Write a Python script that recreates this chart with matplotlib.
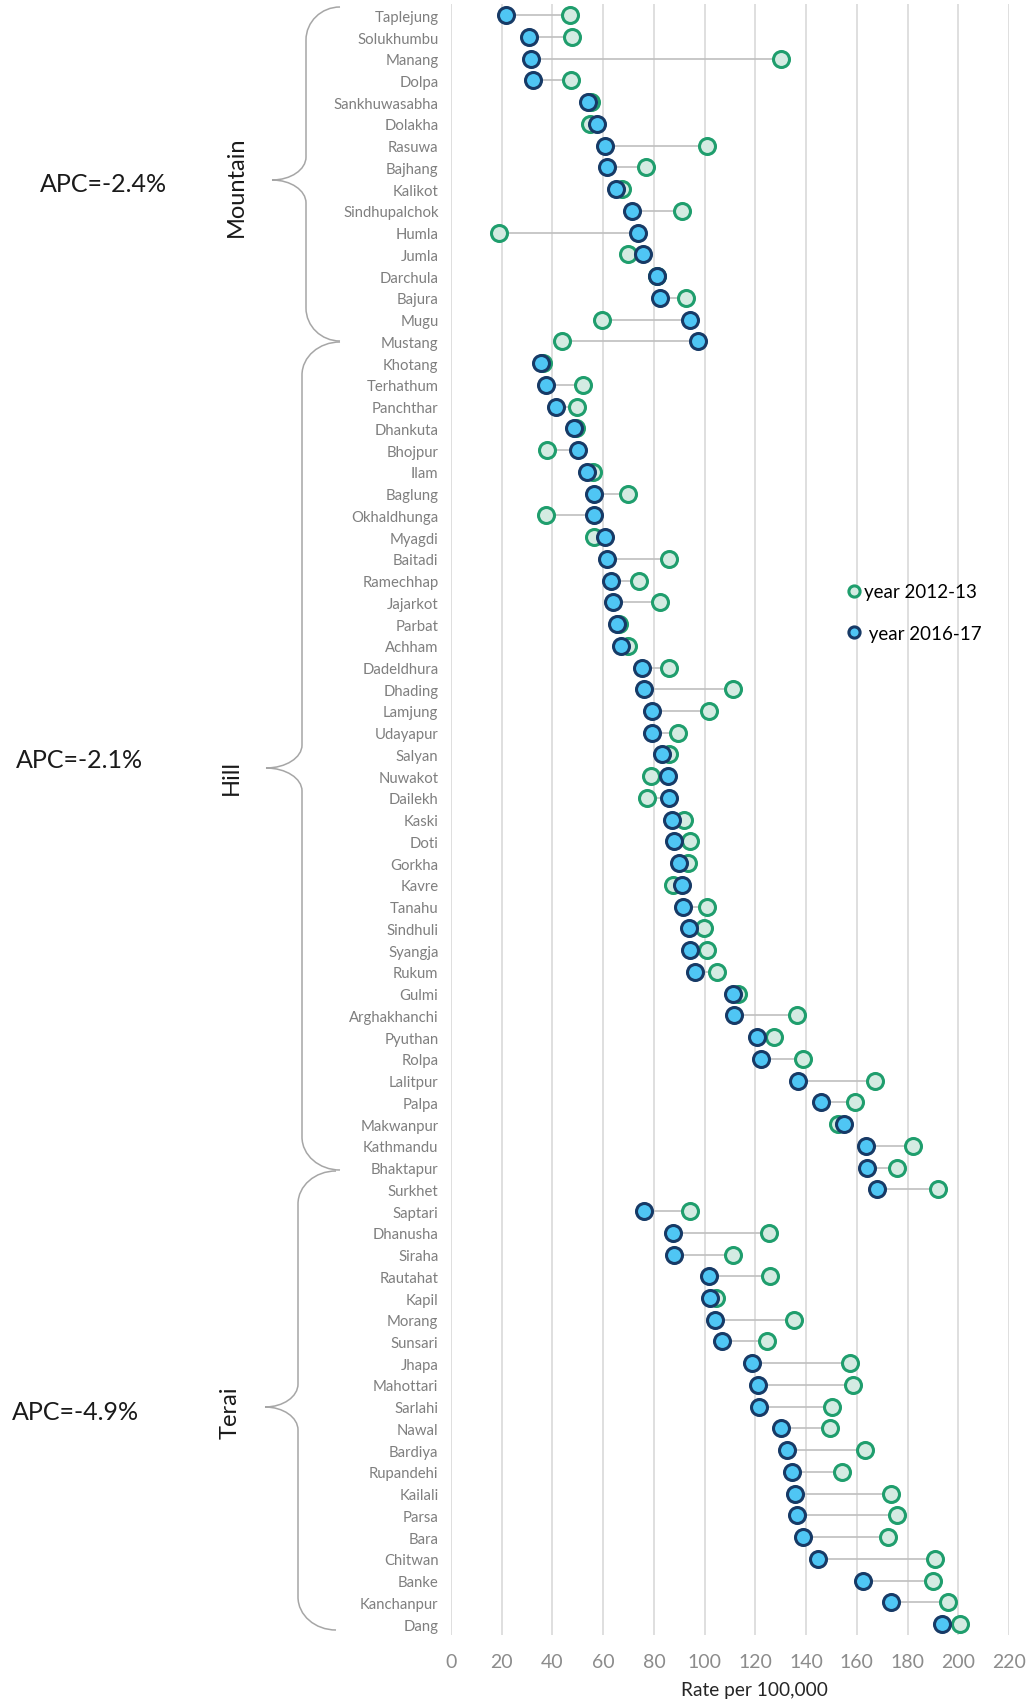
import matplotlib
matplotlib.use("Agg")
import matplotlib.pyplot as plt
from matplotlib.path import Path
from matplotlib.patches import PathPatch
import numpy as np

plt.rcParams['font.family'] = ['Lato', 'DejaVu Sans']

districts = [
    "Taplejung", "Solukhumbu", "Manang", "Dolpa", "Sankhuwasabha", "Dolakha",
    "Rasuwa", "Bajhang", "Kalikot", "Sindhupalchok", "Humla", "Jumla",
    "Darchula", "Bajura", "Mugu", "Mustang", "Khotang", "Terhathum",
    "Panchthar", "Dhankuta", "Bhojpur", "Ilam", "Baglung", "Okhaldhunga",
    "Myagdi", "Baitadi", "Ramechhap", "Jajarkot", "Parbat", "Achham",
    "Dadeldhura", "Dhading", "Lamjung", "Udayapur", "Salyan", "Nuwakot",
    "Dailekh", "Kaski", "Doti", "Gorkha", "Kavre", "Tanahu", "Sindhuli",
    "Syangja", "Rukum", "Gulmi", "Arghakhanchi", "Pyuthan", "Rolpa",
    "Lalitpur", "Palpa", "Makwanpur", "Kathmandu", "Bhaktapur", "Surkhet",
    "Saptari", "Dhanusha", "Siraha", "Rautahat", "Kapil", "Morang",
    "Sunsari", "Jhapa", "Mahottari", "Sarlahi", "Nawal", "Bardiya",
    "Rupandehi", "Kailali", "Parsa", "Bara", "Chitwan", "Banke",
    "Kanchanpur", "Dang",
]

rate_2012 = [
    47.0, 47.7, 130.2, 47.4, 55.0, 54.8, 100.8, 77.0, 67.5, 91.2, 19.0, 69.6,
    81.2, 92.7, 59.4, 43.9, 36.1, 52.0, 49.5, 49.3, 38.0, 55.8, 69.6, 37.5,
    56.2, 86.1, 74.3, 82.4, 66.1, 69.9, 86.1, 111.1, 101.8, 89.5, 85.8, 78.9,
    77.1, 91.8, 94.1, 93.4, 87.4, 100.9, 99.9, 100.9, 104.8, 113.1, 136.3,
    127.5, 138.8, 167.2, 159.4, 152.4, 182.1, 176.0, 192.0, 94.4, 125.4,
    111.1, 125.8, 104.6, 135.1, 124.7, 157.5, 158.5, 150.2, 149.5, 163.1,
    154.1, 173.5, 176.0, 172.3, 190.9, 190.1, 195.9, 200.8,
]

rate_2016 = [
    21.7, 30.8, 31.4, 32.4, 54.1, 57.4, 60.8, 61.5, 65.0, 71.5, 73.6, 75.7,
    81.2, 82.4, 94.1, 97.2, 35.6, 37.5, 41.4, 48.4, 50.2, 53.5, 56.2, 56.5,
    60.6, 61.5, 63.2, 63.9, 65.5, 67.1, 75.2, 75.9, 79.1, 79.3, 83.0, 85.4,
    85.8, 87.2, 87.9, 89.8, 91.2, 91.4, 93.7, 94.1, 96.3, 111.0, 111.7,
    120.5, 122.2, 136.9, 145.8, 154.8, 163.6, 164.0, 168.0, 76.1, 87.7,
    87.9, 101.6, 102.2, 104.1, 106.9, 118.5, 121.0, 121.5, 130.2, 132.5,
    134.6, 135.6, 136.5, 138.6, 144.8, 162.6, 173.5, 193.4,
]

x_ticks = [0, 20, 40, 60, 80, 100, 120, 140, 160, 180, 200, 220]

groups = ["Mountain", "Hill", "Terai"]
apc_labels = ["APC=-2.4%", "APC=-2.1%", "APC=-4.9%"]

W, H = 1029, 1706
fig = plt.figure(figsize=(W / 100, H / 100), dpi=100)
ax = fig.add_axes([451 / W, 1 - 1636 / H, (1009 - 451) / W, (1636 - 5.4) / H])

y = np.arange(len(districts))

# connector lines
ax.hlines(y, rate_2016, rate_2012, color='#bfbfbf', linewidth=1.2, zorder=2)

ax.plot(rate_2012, y, linestyle='none', marker='o', markersize=11.5,
        markerfacecolor='#d4ebe2', markeredgecolor='#1f9e6d',
        markeredgewidth=2.2, zorder=3, label='year 2012-13')
ax.plot(rate_2016, y, linestyle='none', marker='o', markersize=11.5,
        markerfacecolor='#4fc6f4', markeredgecolor='#173a66',
        markeredgewidth=2.2, zorder=4, label=' year 2016-17')

ax.set_xlim(0, 220)
ax.set_ylim(len(districts) - 0.5, -0.5)
ax.set_xticks(x_ticks)
ax.set_yticks(y)
ax.set_yticklabels(districts, fontsize=10.7, color='#7f7f7f')
ax.tick_params(axis='x', labelsize=14, colors='#8c8c8c', length=0, pad=13)
ax.tick_params(axis='y', length=0, pad=9)
ax.grid(True, axis='x', color='#d9d9d9', linewidth=1.2, zorder=0)
ax.set_axisbelow(True)
for s in ax.spines.values():
    s.set_visible(False)
ax.set_xlabel('Rate per 100,000', fontsize=13.8, color='#262626', va='center')
ax.xaxis.set_label_coords(0.543, -0.0337)

ax.legend(loc='upper left', bbox_to_anchor=(0.708, 0.645), frameon=False,
          fontsize=13.5, handlelength=0.8, handletextpad=0.15,
          labelspacing=1.3, borderpad=0, borderaxespad=0, markerscale=0.7)


def px(x, yy):
    return (x / W, 1 - yy / H)


def brace(xr, xv, xt, ytop, ytip, ybot, h=33, h2=23):
    k = 0.552
    a = xr - xv
    b = xv - xt
    pts = [
        (xr, ytop),
        (xr - k * a, ytop), (xv, ytop + h - k * h), (xv, ytop + h),
        (xv, ytip - h2),
        (xv, ytip - h2 + k * h2), (xt + k * b, ytip), (xt, ytip),
        (xt + k * b, ytip), (xv, ytip + h2 - k * h2), (xv, ytip + h2),
        (xv, ybot - h),
        (xv, ybot - h + k * h), (xr - k * a, ybot), (xr, ybot),
    ]
    codes = [Path.MOVETO,
             Path.CURVE4, Path.CURVE4, Path.CURVE4,
             Path.LINETO,
             Path.CURVE4, Path.CURVE4, Path.CURVE4,
             Path.CURVE4, Path.CURVE4, Path.CURVE4,
             Path.LINETO,
             Path.CURVE4, Path.CURVE4, Path.CURVE4]
    path = Path([px(*p) for p in pts], codes)
    fig.add_artist(PathPatch(path, facecolor='none', edgecolor='#a6a6a6',
                             linewidth=1.1, transform=fig.transFigure))


brace(340, 306, 272, 8, 181, 342)
brace(340, 302, 266, 343, 769, 1171)
brace(336, 298, 265, 1172, 1408, 1631)

group_pos = [(236, 187), (231, 778), (230, 1413)]
apc_pos = [(40, 184), (16, 761), (12, 1413)]
for g, (gx, gy) in zip(groups, group_pos):
    fig.text(*px(gx, gy), g, rotation=90, ha='center', va='center',
             fontsize=17, color='#1a1a1a')
for t, (tx, ty) in zip(apc_labels, apc_pos):
    fig.text(*px(tx, ty), t, ha='left', va='center', fontsize=18,
             color='#1a1a1a')

fig.savefig('out.png', dpi=100)
